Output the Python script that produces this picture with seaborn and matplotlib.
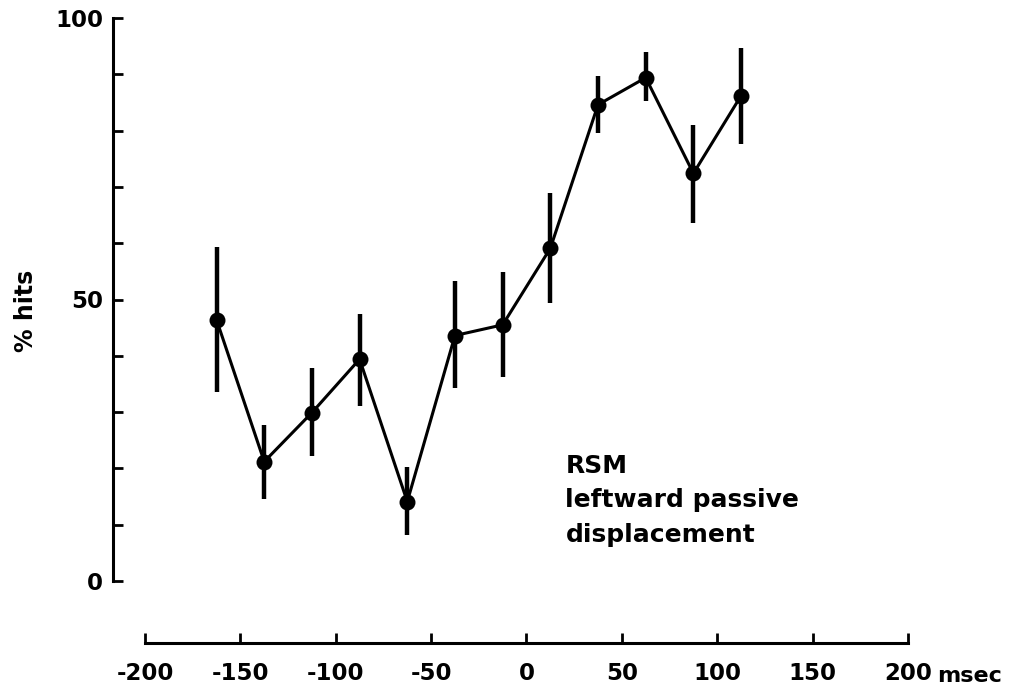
import matplotlib
matplotlib.use("Agg")
import matplotlib.pyplot as plt
import matplotlib.transforms as mtransforms
import seaborn as sns
import pandas as pd

# Stimulus onset relative to movement (msec) and percentage of hits
times = [-162.5, -137.5, -112.5, -87.5, -62.5, -37.5, -12.5, 12.5, 37.5, 62.5, 87.5, 112.5]
hits = [46.4, 21.2, 29.9, 39.4, 14.1, 43.6, 45.5, 59.1, 84.6, 89.4, 72.4, 86.2]
err_low = [33.6, 14.5, 22.2, 31.1, 8.2, 34.3, 36.2, 49.4, 79.5, 85.2, 63.6, 77.6]
err_high = [59.4, 27.7, 37.8, 47.5, 20.2, 53.3, 54.9, 69.0, 89.7, 94.0, 81.0, 94.7]

x_ticks = [-200, -150, -100, -50, 0, 50, 100, 150, 200]
x_tick_labels = ["-200", "-150", "-100", "-50", "0", "50", "100", "150", "200"]
y_ticks = [0, 50, 100]
y_tick_labels = ["0", "50", "100"]
y_minor_ticks = [10, 20, 30, 40, 60, 70, 80, 90]

sns.set_style("ticks")
plt.rcParams["font.family"] = ["DejaVu Sans"]
plt.rcParams["font.weight"] = "bold"

df = pd.DataFrame({"t": times, "hits": hits, "lo": err_low, "hi": err_high})

fig = plt.figure(figsize=(10.2, 6.88), dpi=100)
fig.patch.set_facecolor("white")
ax = fig.add_axes([145 / 1020, 107 / 688, 763 / 1020, 563 / 688])
ax.set_facecolor("white")

# error bars
ax.vlines(df["t"], df["lo"], df["hi"], color="black", lw=3.2, zorder=2)
# mean line with filled markers
sns.lineplot(data=df, x="t", y="hits", ax=ax, color="black", lw=2.2,
             marker="o", markersize=11.5, markeredgewidth=0, zorder=3)

ax.set_xlim(-200, 200)
ax.set_ylim(0, 100)

for side in ["top", "right"]:
    ax.spines[side].set_visible(False)
for side in ["left", "bottom"]:
    ax.spines[side].set_linewidth(2.2)
    ax.spines[side].set_color("black")
ax.spines["left"].set_position(("outward", 23))
ax.spines["bottom"].set_position(("outward", 44.6))

ax.set_xticks(x_ticks)
ax.set_xticklabels(x_tick_labels, fontweight="bold")
ax.set_yticks(y_ticks)
ax.set_yticklabels(y_tick_labels, fontweight="bold")
ax.set_yticks(y_minor_ticks, minor=True)
ax.tick_params(axis="both", which="both", direction="in", length=7, width=2,
               color="black", labelcolor="black")
ax.tick_params(axis="x", pad=14, labelsize=16.5)
ax.tick_params(axis="y", pad=7, labelsize=16.5)

ax.set_xlabel("")
ax.set_ylabel("% hits", fontsize=17, fontweight="bold", color="black")
ax.yaxis.set_label_coords(-0.14, 0.48)

# unit label next to the last tick
trans = mtransforms.blended_transform_factory(ax.transData, fig.transFigure)
ax.text(215.5, 6 / 688, "msec", transform=trans, ha="left", va="baseline",
        fontsize=16, fontweight="bold", color="black")

ax.text(20.4, 22.6, "RSM\nleftward passive\ndisplacement", ha="left", va="top",
        fontsize=18, fontweight="bold", linespacing=1.55, color="black")

fig.savefig("out.png", dpi=100, facecolor="white")
